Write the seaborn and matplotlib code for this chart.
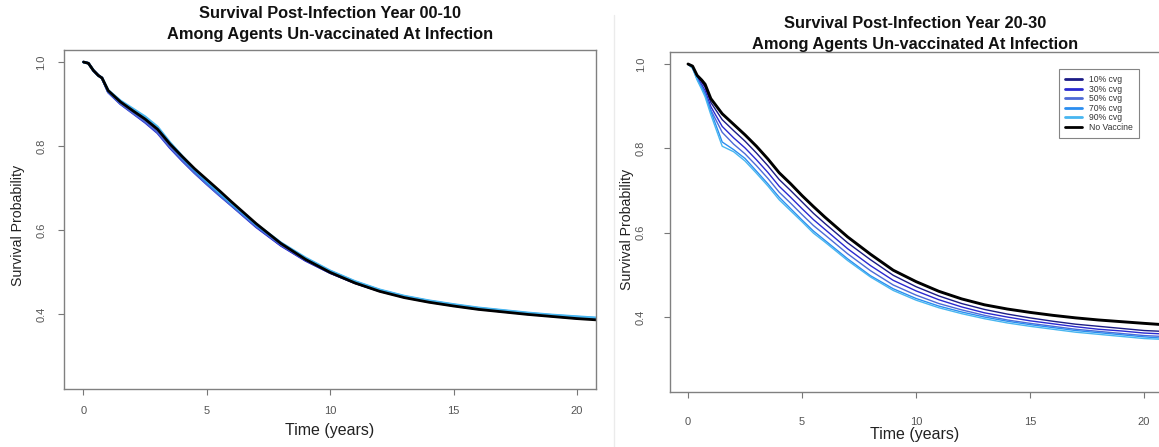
import numpy as np
import pandas as pd
import matplotlib
matplotlib.use("Agg")
import matplotlib.pyplot as plt
import seaborn as sns
from matplotlib.lines import Line2D

# ---------------- data ----------------
time_years = [0, 0.2, 0.4, 0.6, 0.75, 1.0, 1.5, 2, 2.5, 3, 3.5, 4, 4.5, 5, 5.5, 6,
              7, 8, 9, 10, 11, 12, 13, 14, 15, 16, 17, 18, 19, 20, 20.8]

series_names = ["10% cvg", "30% cvg", "50% cvg", "70% cvg", "90% cvg", "No Vaccine"]

# Panel 1: Year 00-10
p1_cvg10 = [1.0, 0.997, 0.98, 0.968, 0.962, 0.930, 0.902, 0.880, 0.858, 0.834, 0.799, 0.768, 0.739, 0.712, 0.686, 0.660,
            0.609, 0.564, 0.528, 0.498, 0.474, 0.455, 0.440, 0.429, 0.420, 0.412, 0.406, 0.400, 0.395, 0.390, 0.388]
p1_cvg30 = [1.0, 0.997, 0.98, 0.968, 0.962, 0.928, 0.900, 0.878, 0.856, 0.831, 0.796, 0.765, 0.736, 0.709, 0.683, 0.658,
            0.607, 0.563, 0.527, 0.498, 0.474, 0.455, 0.441, 0.430, 0.421, 0.413, 0.406, 0.401, 0.396, 0.391, 0.389]
p1_cvg50 = [1.0, 0.997, 0.98, 0.968, 0.962, 0.929, 0.901, 0.879, 0.858, 0.833, 0.798, 0.767, 0.737, 0.710, 0.684, 0.659,
            0.609, 0.565, 0.529, 0.499, 0.475, 0.456, 0.441, 0.430, 0.421, 0.413, 0.407, 0.401, 0.396, 0.392, 0.389]
p1_cvg70 = [1.0, 0.997, 0.98, 0.968, 0.962, 0.931, 0.905, 0.885, 0.866, 0.842, 0.806, 0.772, 0.742, 0.714, 0.688, 0.662,
            0.612, 0.568, 0.532, 0.502, 0.477, 0.457, 0.442, 0.431, 0.422, 0.414, 0.408, 0.402, 0.397, 0.393, 0.390]
p1_cvg90 = [1.0, 0.997, 0.98, 0.968, 0.962, 0.933, 0.908, 0.889, 0.870, 0.846, 0.809, 0.776, 0.745, 0.717, 0.690, 0.664,
            0.614, 0.570, 0.534, 0.503, 0.478, 0.458, 0.443, 0.432, 0.423, 0.415, 0.409, 0.403, 0.398, 0.394, 0.391]
p1_novac = [1.0, 0.997, 0.98, 0.968, 0.962, 0.932, 0.905, 0.884, 0.864, 0.840, 0.805, 0.775, 0.746, 0.720, 0.694, 0.667,
            0.615, 0.568, 0.530, 0.499, 0.474, 0.454, 0.439, 0.428, 0.419, 0.411, 0.405, 0.399, 0.394, 0.389, 0.386]

# Panel 2: Year 20-30
p2_cvg10 = [1.0, 0.994, 0.970, 0.957, 0.945, 0.909, 0.868, 0.842, 0.817, 0.789, 0.759, 0.726, 0.700, 0.673, 0.646, 0.622,
            0.576, 0.536, 0.499, 0.472, 0.450, 0.432, 0.418, 0.407, 0.398, 0.390, 0.383, 0.378, 0.373, 0.368, 0.366]
p2_cvg30 = [1.0, 0.993, 0.968, 0.951, 0.937, 0.899, 0.852, 0.825, 0.801, 0.773, 0.743, 0.710, 0.684, 0.657, 0.631, 0.608,
            0.562, 0.522, 0.487, 0.462, 0.441, 0.424, 0.410, 0.400, 0.391, 0.384, 0.377, 0.371, 0.367, 0.362, 0.360]
p2_cvg50 = [1.0, 0.992, 0.965, 0.946, 0.930, 0.891, 0.838, 0.810, 0.787, 0.759, 0.729, 0.696, 0.670, 0.643, 0.617, 0.595,
            0.550, 0.510, 0.476, 0.452, 0.432, 0.417, 0.404, 0.393, 0.385, 0.378, 0.371, 0.366, 0.361, 0.356, 0.354]
p2_cvg70 = [1.0, 0.990, 0.964, 0.944, 0.928, 0.888, 0.815, 0.797, 0.776, 0.746, 0.716, 0.684, 0.657, 0.630, 0.604, 0.582,
            0.538, 0.498, 0.467, 0.444, 0.426, 0.412, 0.400, 0.390, 0.382, 0.375, 0.368, 0.363, 0.358, 0.353, 0.350]
p2_cvg90 = [1.0, 0.990, 0.962, 0.940, 0.922, 0.880, 0.805, 0.792, 0.770, 0.741, 0.711, 0.678, 0.652, 0.626, 0.599, 0.578,
            0.534, 0.495, 0.463, 0.440, 0.422, 0.408, 0.396, 0.386, 0.378, 0.371, 0.364, 0.359, 0.354, 0.349, 0.347]
p2_novac = [1.0, 0.995, 0.973, 0.962, 0.952, 0.918, 0.882, 0.857, 0.832, 0.805, 0.775, 0.742, 0.716, 0.688, 0.662, 0.637,
            0.590, 0.549, 0.511, 0.484, 0.461, 0.443, 0.429, 0.419, 0.411, 0.404, 0.398, 0.393, 0.389, 0.385, 0.382]

x_ticks = [0, 5, 10, 15, 20]
y_ticks = [0.4, 0.6, 0.8, 1.0]
titles = [("Survival Post-Infection Year 00-10", "Among Agents Un-vaccinated At Infection"),
          ("Survival Post-Infection Year 20-30", "Among Agents Un-vaccinated At Infection")]

colors = {"10% cvg": "#1c1c86", "30% cvg": "#2a2ad0", "50% cvg": "#4d6ad6",
          "70% cvg": "#2b8ef0", "90% cvg": "#48b6f0", "No Vaccine": "#000000"}


def long_frame(cols):
    frames = []
    for name, vals in zip(series_names, cols):
        frames.append(pd.DataFrame({"Time": time_years, "Survival": vals, "group": name}))
    return pd.concat(frames, ignore_index=True)


df1 = long_frame([p1_cvg10, p1_cvg30, p1_cvg50, p1_cvg70, p1_cvg90, p1_novac])
df2 = long_frame([p2_cvg10, p2_cvg30, p2_cvg50, p2_cvg70, p2_cvg90, p2_novac])

# ---------------- style ----------------
sns.set_theme(style="white")
plt.rcParams["font.family"] = ["Liberation Sans", "DejaVu Sans"]

W, H = 1159, 447
fig = plt.figure(figsize=(W / 100, H / 100), dpi=100)
fig.patch.set_facecolor("white")


def rect(x0, y0, x1, y1):
    return [x0 / W, 1 - y1 / H, (x1 - x0) / W, (y1 - y0) / H]


axL = fig.add_axes(rect(64, 50, 596, 389))
axR = fig.add_axes(rect(670, 52, 1161.6, 392))

sizesL = {n: (2.0 if n == "No Vaccine" else 1.7) for n in series_names}
sizesR = {n: (2.1 if n == "No Vaccine" else 1.0) for n in series_names}

sns.lineplot(data=df1, x="Time", y="Survival", hue="group", hue_order=series_names,
             palette=colors, size="group", sizes=sizesL, size_order=series_names,
             estimator=None, sort=False, legend=False, ax=axL)
sns.lineplot(data=df2, x="Time", y="Survival", hue="group", hue_order=series_names,
             palette=colors, size="group", sizes=sizesR, size_order=series_names,
             estimator=None, sort=False, legend=False, ax=axR)

configs = [
    (axL, (-0.79, 20.77), (0.2214, 1.0286), 8.0, 8.6, (330, 431), (18, 225), titles[0], (14, 35), 330),
    (axR, (-0.79, 20.77), (0.2222, 1.0285), 13.7, 13.5, (915, 434), (627, 229), titles[1], (24, 44), 915),
]

for ax, xl, yl, xpad, ypad, xlab_pos, ylab_pos, ttl, ttl_y, ttl_x in configs:
    ax.set_xlim(*xl)
    ax.set_ylim(*yl)
    ax.set_xticks(x_ticks)
    ax.set_yticks(y_ticks)
    ax.set_xticklabels([str(v) for v in x_ticks])
    ax.set_yticklabels([f"{v:.1f}" for v in y_ticks], rotation=90, va="center")
    ax.tick_params(axis="x", length=4, width=0.8, color="#777777", labelcolor="#555555",
                   labelsize=8, pad=xpad, direction="out", bottom=True)
    ax.tick_params(axis="y", length=4, width=0.8, color="#777777", labelcolor="#555555",
                   labelsize=8, pad=ypad, direction="out", left=True)
    for sp in ax.spines.values():
        sp.set_visible(True)
        sp.set_color("#808080")
        sp.set_linewidth(1.0)
    ax.set_facecolor("white")
    ax.set_xlabel("Time (years)", fontsize=11.5, color="#222222")
    ax.set_ylabel("Survival Probability", fontsize=10.2, color="#222222")
    ax.xaxis.set_label_coords(xlab_pos[0] / W, 1 - xlab_pos[1] / H, transform=fig.transFigure)
    ax.xaxis.label.set_va("center")
    ax.yaxis.set_label_coords(ylab_pos[0] / W, 1 - ylab_pos[1] / H, transform=fig.transFigure)
    ax.yaxis.label.set_va("center")
    fig.text(ttl_x / W, 1 - ttl_y[0] / H, ttl[0], ha="center", va="center",
             fontsize=11.8, fontweight="bold", color="#111111")
    fig.text(ttl_x / W, 1 - ttl_y[1] / H, ttl[1], ha="center", va="center",
             fontsize=11.8, fontweight="bold", color="#111111")

# legend on the right panel
handles = [Line2D([0], [0], color=colors[n], lw=2) for n in series_names]
leg = axR.legend(handles, series_names, loc="upper left",
                 bbox_to_anchor=(1059 / W, 1 - 69 / H), bbox_transform=fig.transFigure,
                 borderaxespad=0, fontsize=6.2, frameon=True, fancybox=False,
                 handlelength=1.9, handletextpad=0.8, labelspacing=0.05,
                 borderpad=0.75)
leg.get_frame().set_edgecolor("#666666")
leg.get_frame().set_linewidth(0.8)
for t in leg.get_texts():
    t.set_color("#333333")

# faint edge of the second screenshot
fig.add_artist(Line2D([614 / W, 614 / W], [0, 1 - 15 / H], transform=fig.transFigure,
                      color="#ebebeb", lw=1))

fig.savefig("out.png", dpi=100, facecolor="white")
